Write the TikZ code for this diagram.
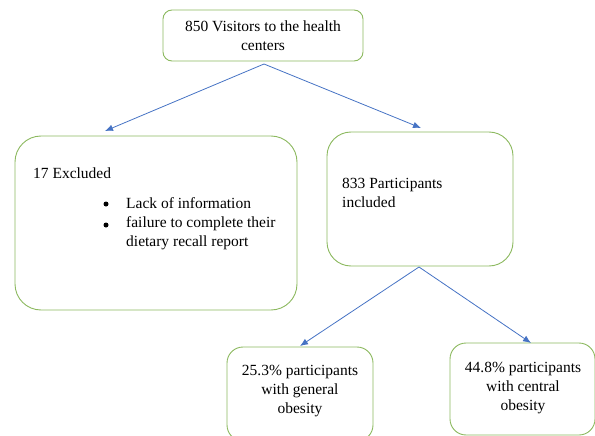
\documentclass[tikz,border=0pt]{standalone}
\usepackage{fontspec}
\setmainfont{Liberation Serif}
\usetikzlibrary{arrows.meta}
\definecolor{boxgreen}{RGB}{140,185,95}
\definecolor{arrblue}{RGB}{70,115,196}
\begin{document}
\begin{tikzpicture}[x=1pt,y=1pt,
  font=\fontsize{15.5}{19}\selectfont,
  box/.style={draw=boxgreen, line width=0.9pt, fill=white, inner sep=0pt},
  txt/.style={inner sep=0pt, text depth=0pt},
  bul/.style={circle, fill=black, inner sep=0pt, minimum size=5pt},
  arr/.style={draw=arrblue, line width=0.8pt, -{Latex[length=8pt,width=6.5pt]}}]
\useasboundingbox (0,0) rectangle (595,-436);
\begin{scope}
\clip (0,0) rectangle (595,-436);
% boxes
\node[box, rounded corners=9pt, minimum width=200pt, minimum height=51pt] (top) at (263,-35.5) {};
\node[box, rounded corners=26pt, minimum width=282pt, minimum height=174pt] (left) at (156,-223) {};
\node[box, rounded corners=24pt, minimum width=186pt, minimum height=134pt] (right) at (420,-199) {};
\node[box, rounded corners=16pt, minimum width=146pt, minimum height=94pt] (bl) at (300,-394) {};
\node[box, rounded corners=16pt, minimum width=145pt, minimum height=92pt] (br) at (522.5,-389) {};
\end{scope}
% texts
\node[txt, align=center] (toptxt) at (263,-36) {850 Visitors to the health\\centers};
\node[txt, anchor=west] (excl) at (33,-173) {17 Excluded};
\node[txt, anchor=north west, align=left] (reasons) at (126,-197) {Lack of information\\failure to complete their\\dietary recall report};
\node[bul] (b1) at (106,-204) {};
\node[bul] (b2) at (106,-225) {};
\node[txt, anchor=north west, align=left] (incl) at (342,-178) {833 Participants\\included};
\node[txt, align=center] (bltxt) at (300,-389) {25.3\% participants\\with general\\obesity};
\node[txt, align=center] (brtxt) at (523,-386) {44.8\% participants\\with central\\obesity};
% connectors
\coordinate (s1) at (264,-64);
\coordinate (e1) at (105,-131);
\coordinate (e2) at (421,-128);
\coordinate (s2) at (419,-267);
\coordinate (e3) at (300,-346);
\coordinate (e4) at (531,-343);
\draw[arr] (s1) -- (e1);
\draw[arr] (s1) -- (e2);
\draw[arr] (s2) -- (e3);
\draw[arr] (s2) -- (e4);
\end{tikzpicture}
\end{document}
